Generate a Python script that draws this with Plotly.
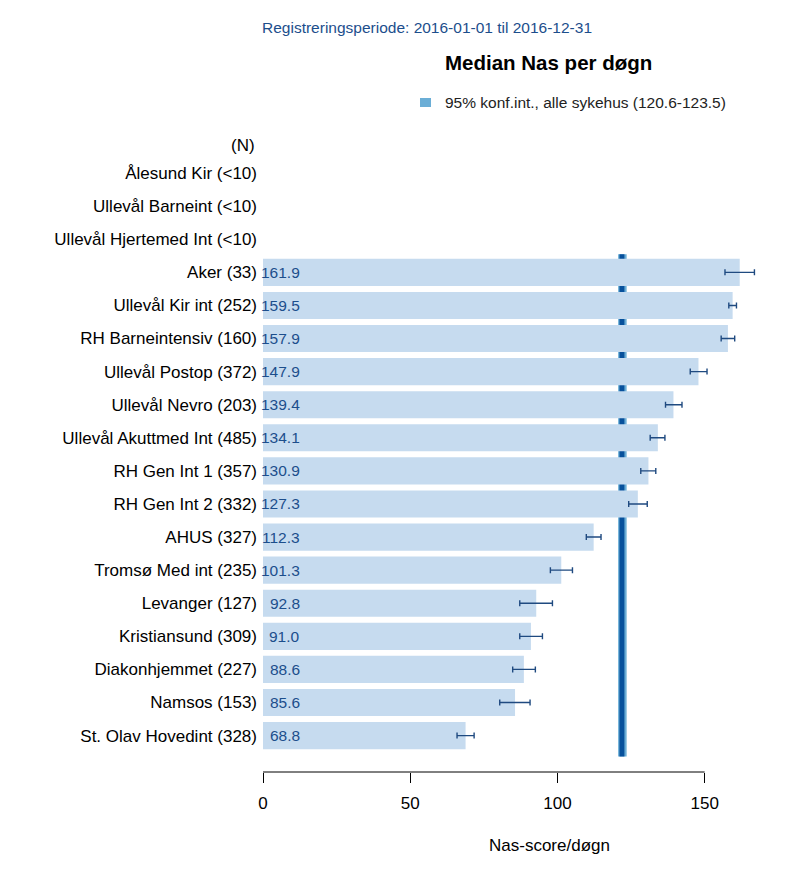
import plotly.graph_objects as go

hospitals = ["Ålesund Kir", "Ullevål Barneint", "Ullevål Hjertemed Int", "Aker",
             "Ullevål Kir int", "RH Barneintensiv", "Ullevål Postop", "Ullevål Nevro",
             "Ullevål Akuttmed Int", "RH Gen Int 1", "RH Gen Int 2", "AHUS",
             "Tromsø Med int", "Levanger", "Kristiansund", "Diakonhjemmet", "Namsos",
             "St. Olav Hovedint"]
n_obs = ["<10", "<10", "<10", "33", "252", "160", "372", "203", "485", "357", "332",
         "327", "235", "127", "309", "227", "153", "328"]
median_nas = [None, None, None, 161.9, 159.5, 157.9, 147.9, 139.4, 134.1, 130.9, 127.3,
              112.3, 101.3, 92.8, 91.0, 88.6, 85.6, 68.8]
ci_low = [None, None, None, 156.9, 158.2, 155.6, 145.1, 136.7, 131.5, 128.3, 124.2,
          109.8, 97.6, 87.2, 87.2, 84.8, 80.4, 65.9]
ci_high = [None, None, None, 166.9, 160.8, 160.2, 150.8, 142.3, 136.5, 133.4, 130.5,
           114.8, 105.1, 98.3, 94.9, 92.5, 90.7, 71.7]
all_median = 121.9
all_ci = (120.6, 123.5)
x_ticks = [0, 50, 100, 150]

labels = [f"{h} ({n})" for h, n in zip(hospitals, n_obs)]

FONT = "Liberation Sans, Arial, sans-serif"
BAR = "#c6dbef"
DARK = "#1c4e8c"
LIGHTBAND = "#6baed6"
MEDLINE = "#08519c"

# plot area in pixels
L, R, T, B = 263, 793, 140, 772
W, H = 806, 889


def px(x):
    return (x - L) / (R - L)


def py(y):
    return (B - y) / (B - T)


fig = go.Figure()

fig.add_trace(go.Bar(
    y=labels, x=median_nas, orientation="h", marker_color=BAR,
    marker_line_width=0, width=0.82, hoverinfo="skip", showlegend=False,
))

ex_plus = [None if v is None else hi - v for v, hi in zip(median_nas, ci_high)]
ex_minus = [None if v is None else v - lo for v, lo in zip(median_nas, ci_low)]
fig.add_trace(go.Scatter(
    y=labels, x=median_nas, mode="markers",
    marker=dict(size=1, opacity=0),
    error_x=dict(type="data", symmetric=False, array=ex_plus, arrayminus=ex_minus,
                 color="#1f4a80", thickness=1.4, width=3),
    hoverinfo="skip", showlegend=False,
))

# value labels inside bars (right-aligned)
for lab, v in zip(labels, median_nas):
    if v is None:
        continue
    fig.add_annotation(x=px(302), xref="paper", y=lab, yref="y", text=f"{v:.1f}",
                       showarrow=False, xanchor="right", yanchor="middle",
                       font=dict(family=FONT, size=15.5, color=DARK))

# CI band and median line for all hospitals (under bars)
first = 3
last = len(labels) - 1
fig.add_shape(type="rect", xref="x", yref="y", x0=all_ci[0], x1=all_ci[1],
              y0=first - 0.55, y1=last + 0.63, fillcolor=LIGHTBAND, line_width=0,
              layer="below")
fig.add_shape(type="line", xref="x", yref="y", x0=all_median, x1=all_median,
              y0=first - 0.55, y1=last + 0.63, line=dict(color=MEDLINE, width=5),
              layer="below")

# x axis line only 0..150
fig.add_shape(type="line", xref="x", yref="paper", x0=x_ticks[0], x1=x_ticks[-1],
              y0=0, y1=0, line=dict(color="black", width=1))

# (N) header
fig.add_annotation(x=0, xref="paper", xanchor="right", xshift=-6, y=-0.82, yref="y",
                   yanchor="middle", text="(N)", showarrow=False,
                   font=dict(family=FONT, size=17, color="black"))

# Titles
fig.add_annotation(x=px(427), y=py(28), xref="paper", yref="paper",
                   xanchor="center", yanchor="middle",
                   text="Registreringsperiode: 2016-01-01 til 2016-12-31",
                   showarrow=False, font=dict(family=FONT, size=15.5, color=DARK))
fig.add_annotation(x=px(548), y=py(62), xref="paper", yref="paper",
                   xanchor="center", yanchor="middle",
                   text="<b>Median Nas per døgn</b>", showarrow=False,
                   font=dict(family=FONT, size=20.5, color="black"))
# legend
fig.add_shape(type="rect", xref="paper", yref="paper", x0=px(420), x1=px(431),
              y0=py(98), y1=py(107), fillcolor=LIGHTBAND, line_width=0)
fig.add_annotation(x=px(443), y=py(103), xref="paper", yref="paper",
                   xanchor="left", yanchor="middle",
                   text="95% konf.int., alle sykehus (120.6-123.5)", showarrow=False,
                   font=dict(family=FONT, size=15.5, color="#222222"))
# axis title
fig.add_annotation(x=px(549), y=py(845), xref="paper", yref="paper",
                   xanchor="center", yanchor="middle",
                   text="Nas-score/døgn", showarrow=False,
                   font=dict(family=FONT, size=17, color="black"))

fig.update_layout(
    width=W, height=H,
    margin=dict(l=L, r=W - R, t=T, b=H - B, pad=0),
    plot_bgcolor="white", paper_bgcolor="white",
    font=dict(family=FONT, size=17, color="black"),
    xaxis=dict(range=[0, 180], tickvals=x_ticks, ticks="outside", ticklen=10,
               tickcolor="black", tickwidth=1, showgrid=False, zeroline=False,
               showline=False, tickfont=dict(size=17), ticklabelstandoff=6),
    yaxis=dict(type="category", categoryorder="array", categoryarray=labels,
               range=[len(labels) + 0.1, -1.0], showgrid=False, zeroline=False,
               showline=False, ticks="", tickfont=dict(size=17),
               ticklabelstandoff=5),
)

fig.write_html("out.html", config={"displayModeBar": False},
               post_script="document.body.style.margin='0';")
